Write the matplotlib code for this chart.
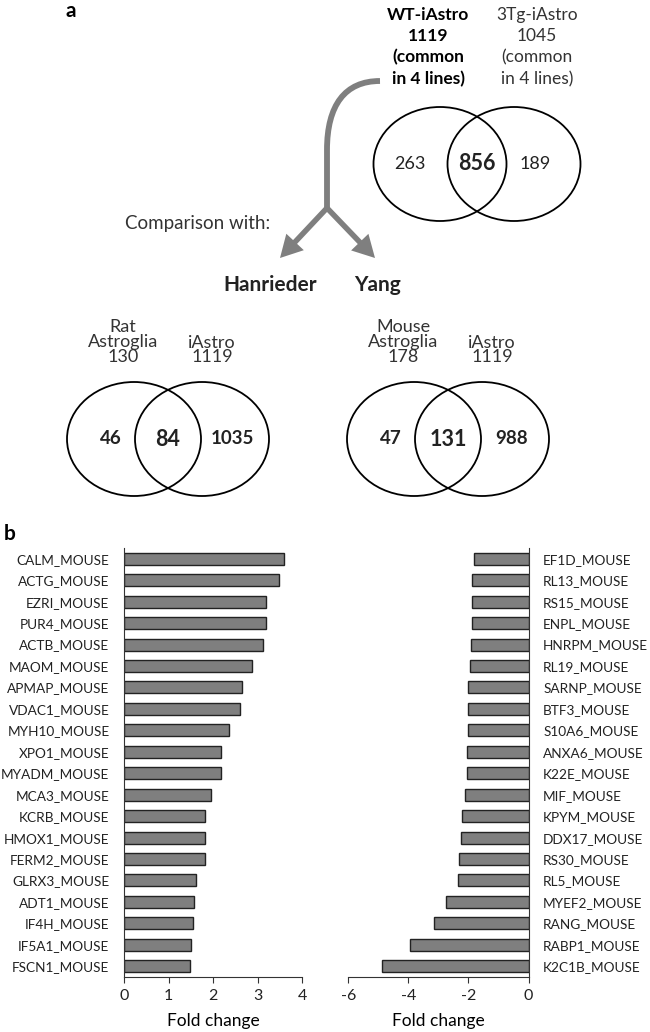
import numpy as np
import matplotlib
matplotlib.use("Agg")
import matplotlib.pyplot as plt
from matplotlib.patches import Ellipse, PathPatch, FancyArrow
from matplotlib.path import Path

plt.rcParams['font.family'] = ['Lato', 'DejaVu Sans']
plt.rcParams['axes.unicode_minus'] = False

# ---- data ----
# top venn: WT-iAstro vs 3Tg-iAstro
top_sets = ["WT-iAstro\n1119\n(common\nin 4 lines)", "3Tg-iAstro\n1045\n(common\nin 4 lines)"]
top_counts = [263, 856, 189]

# comparison venns
cmp_names = ["Hanrieder", "Yang"]
cmp_left_sets = ["Rat\nAstroglia\n130", "Mouse\nAstroglia\n178"]
cmp_right_sets = ["iAstro\n1119", "iAstro\n1119"]
cmp_counts = [[46, 84, 1035], [47, 131, 988]]

# fold change, up-regulated
up_proteins = ["CALM_MOUSE", "ACTG_MOUSE", "EZRI_MOUSE", "PUR4_MOUSE", "ACTB_MOUSE",
               "MAOM_MOUSE", "APMAP_MOUSE", "VDAC1_MOUSE", "MYH10_MOUSE", "XPO1_MOUSE",
               "MYADM_MOUSE", "MCA3_MOUSE", "KCRB_MOUSE", "HMOX1_MOUSE", "FERM2_MOUSE",
               "GLRX3_MOUSE", "ADT1_MOUSE", "IF4H_MOUSE", "IF5A1_MOUSE", "FSCN1_MOUSE"]
up_fc = [3.59, 3.48, 3.18, 3.18, 3.12, 2.87, 2.66, 2.60, 2.36, 2.17,
         2.17, 1.96, 1.81, 1.81, 1.81, 1.61, 1.58, 1.56, 1.51, 1.48]

# fold change, down-regulated
down_proteins = ["EF1D_MOUSE", "RL13_MOUSE", "RS15_MOUSE", "ENPL_MOUSE", "HNRPM_MOUSE",
                 "RL19_MOUSE", "SARNP_MOUSE", "BTF3_MOUSE", "S10A6_MOUSE", "ANXA6_MOUSE",
                 "K22E_MOUSE", "MIF_MOUSE", "KPYM_MOUSE", "DDX17_MOUSE", "RS30_MOUSE",
                 "RL5_MOUSE", "MYEF2_MOUSE", "RANG_MOUSE", "RABP1_MOUSE", "K2C1B_MOUSE"]
down_fc = [-1.83, -1.87, -1.87, -1.89, -1.92, -1.95, -2.02, -2.02, -2.02, -2.04,
           -2.04, -2.11, -2.20, -2.24, -2.33, -2.36, -2.76, -3.16, -3.96, -4.87]

W, H = 650, 1032
fig = plt.figure(figsize=(W / 100, H / 100), dpi=100)

# overlay axes in pixel units for panel a
ax0 = fig.add_axes([0, 0, 1, 1])
ax0.set_xlim(0, W)
ax0.set_ylim(H, 0)
ax0.axis('off')

grey = '#7f7f7f'
txt = '#222222'

ax0.text(71, 11, "a", fontsize=15, fontweight='bold', ha='center', va='center')
ax0.text(4, 534, "b", fontsize=15, fontweight='bold', ha='left', va='center')


def venn(cx, cy, sep, w, h, counts, bold_all, fs, fs_mid, off):
    for x in (cx - sep / 2, cx + sep / 2):
        ax0.add_patch(Ellipse((x, cy), w, h, fill=False, ec='black', lw=1.3))
    xs = [cx - sep / 2 - off[0], cx, cx + sep / 2 + off[1]]
    for i, (x, c) in enumerate(zip(xs, counts)):
        ax0.text(x, cy, str(c), ha='center', va='center',
                 fontsize=fs_mid if i == 1 else fs, color=txt,
                 fontweight='bold' if (bold_all or i == 1) else 'normal')


# top venn
ax0.text(428, 47, top_sets[0], ha='center', va='center', fontsize=12.5,
         fontweight='bold', linespacing=1.4)
ax0.text(537, 47, top_sets[1], ha='center', va='center', fontsize=12.5,
         linespacing=1.4, color='#333333')
venn(477, 164, 74, 133, 114, top_counts, False, 13, 15.5, (30, 21))

# grey arrows
verts = [(380, 81), (345, 81), (327, 105), (327, 150), (327, 212)]
codes = [Path.MOVETO, Path.CURVE4, Path.CURVE4, Path.CURVE4, Path.LINETO]
ax0.add_patch(PathPatch(Path(verts, codes), fill=False, ec=grey, lw=4.2,
                        capstyle='butt'))
for tx in (280, 375):
    ax0.add_patch(FancyArrow(327, 208, tx - 327, 258 - 208, width=5.5,
                             head_width=24, head_length=22,
                             length_includes_head=True, color=grey, lw=0))

ax0.text(270, 223, "Comparison with:", ha='right', va='center', fontsize=13.5,
         color='#333333')
ax0.text(270, 285, cmp_names[0], ha='center', va='center', fontsize=15,
         fontweight='bold', color=txt)
ax0.text(377, 285, cmp_names[1], ha='center', va='center', fontsize=15,
         fontweight='bold', color=txt)

# comparison venns
for cx, ls, rs, cnt in zip([168, 448], cmp_left_sets, cmp_right_sets, cmp_counts):
    ax0.text(cx - 45, 342, ls, ha='center', va='center', fontsize=13,
             linespacing=0.92, color='#333333')
    ax0.text(cx + 44, 350, rs, ha='center', va='center', fontsize=13,
             linespacing=0.92, color='#333333')
    venn(cx, 439, 68, 134, 114, cnt, True, 13.5, 15.5, (23, 30))

# panel b: bar charts
y = np.arange(len(up_proteins))
top, bot = 548, 977
axL = fig.add_axes([124 / W, 1 - bot / H, (302 - 124) / W, (bot - top) / H])
axL.barh(y, up_fc, height=0.56, color=grey, edgecolor='#222222', lw=1)
axL.set_ylim(len(y) - 0.5, -0.5)
axL.set_xlim(0, 4)
axL.set_yticks(y)
axL.set_yticklabels(up_proteins)
axL.set_xticks(range(0, 5))
axL.set_xlabel("Fold change", fontsize=12.5)

axR = fig.add_axes([348.3 / W, 1 - bot / H, (528.5 - 348.3) / W, (bot - top) / H])
axR.barh(y, down_fc, height=0.56, color=grey, edgecolor='#222222', lw=1)
axR.set_ylim(len(y) - 0.5, -0.5)
axR.set_xlim(-6, 0)
axR.set_yticks(y)
axR.set_yticklabels(down_proteins)
axR.yaxis.tick_right()
axR.set_xticks([-6, -4, -2, 0])
axR.set_xlabel("Fold change", fontsize=12.5)

for ax, keep in ((axL, 'left'), (axR, 'right')):
    for s in ('top', 'left', 'right'):
        ax.spines[s].set_visible(s == keep)
    ax.spines['bottom'].set_color('#333333')
    ax.spines[keep].set_color('#333333')
    ax.tick_params(axis='y', length=0, labelsize=9.8, pad=10.5, colors=txt)
    ax.tick_params(axis='x', length=4, labelsize=11.5, colors='#333333',
                   labelcolor=txt, pad=5)
    ax.xaxis.labelpad = 7

fig.savefig("out.png", dpi=100)
